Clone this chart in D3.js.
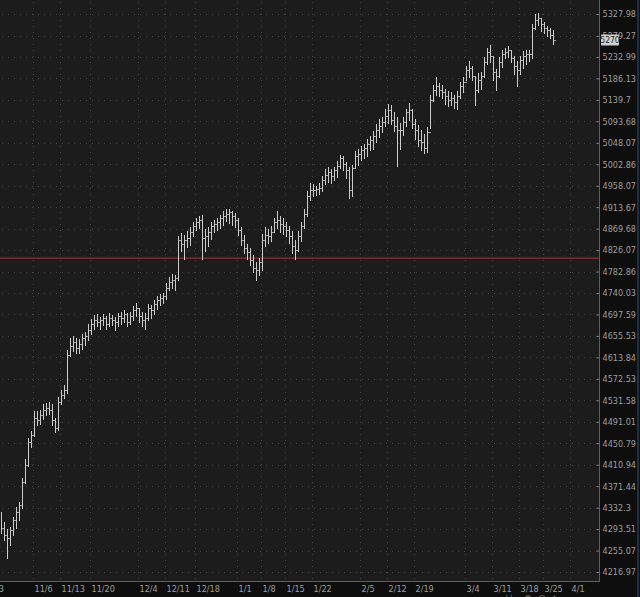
<!DOCTYPE html>
<html><head><meta charset="utf-8">
<script src="https://cdn.jsdelivr.net/npm/d3@7"></script>
<style>
html,body{margin:0;padding:0;background:#0e0e0e;overflow:hidden}
svg{display:block}
.lbl text{font-family:"Liberation Sans Narrow","DejaVu Sans Condensed","Arial Narrow",sans-serif;font-size:9px;fill:#9d9d9d}
</style></head><body>
<svg id="c" width="640" height="597"></svg>
<script>
// ---- data (bar index order, oldest first) ----
const highs=[4324,4305,4292,4297,4315,4332,4341,4386,4420,4460,
4472,4510,4510,4513,4523,4525,4528,4523,4498,4536,
4551,4559,4628,4651,4655,4651,4648,4659,4663,4677,
4687,4695,4697,4691,4697,4693,4699,4695,4691,4699,
4702,4706,4699,4702,4714,4720,4710,4702,4699,4718,
4716,4726,4734,4738,4740,4758,4770,4776,4774,4853,
4859,4855,4863,4871,4883,4891,4895,4897,4867,4871,
4883,4887,4891,4897,4904,4908,4908,4904,4900,4891,
4871,4855,4838,4830,4816,4802,4810,4857,4871,4867,
4875,4891,4904,4895,4891,4883,4875,4863,4846,4863,
4883,4908,4945,4962,4960,4957,4962,4978,4991,4995,
4991,4997,5008,5022,5020,5006,4995,5001,5029,5033,
5041,5045,5054,5062,5071,5086,5097,5101,5118,5129,
5127,5113,5101,5088,5101,5118,5131,5118,5097,5084,
5075,5065,5080,5150,5170,5189,5174,5170,5161,5157,
5155,5148,5157,5178,5187,5213,5222,5213,5191,5196,
5200,5231,5252,5259,5235,5205,5231,5248,5252,5255,
5248,5233,5222,5235,5244,5248,5248,5305,5326,5328,
5319,5310,5301,5296,5292];
const lows=[4288,4274,4243,4265,4283,4297,4310,4333,4379,4410,
4444,4466,4485,4487,4498,4504,4506,4485,4472,4476,
4526,4536,4547,4618,4628,4624,4624,4632,4638,4648,
4661,4671,4675,4671,4677,4671,4675,4677,4669,4675,
4679,4683,4675,4679,4687,4695,4683,4675,4671,4687,
4691,4699,4710,4718,4722,4730,4746,4750,4746,4766,
4826,4810,4834,4838,4855,4867,4871,4810,4826,4836,
4850,4863,4867,4871,4879,4887,4883,4879,4875,4857,
4838,4822,4810,4796,4782,4766,4776,4786,4836,4842,
4846,4863,4871,4863,4859,4855,4842,4822,4810,4826,
4846,4871,4897,4929,4937,4939,4941,4949,4962,4966,
4964,4970,4978,4995,4991,4976,4933,4937,4995,5003,
5012,5016,5022,5033,5037,5050,5062,5071,5084,5092,
5088,5075,5001,5037,5065,5084,5097,5080,5058,5043,
5033,5027,5029,5080,5139,5152,5148,5144,5131,5127,
5129,5124,5122,5144,5157,5183,5191,5183,5129,5157,
5165,5191,5218,5222,5183,5161,5191,5213,5231,5233,
5222,5196,5170,5196,5209,5218,5226,5231,5296,5305,
5292,5287,5280,5276,5263];
const closes=[4296,4283,4277,4292,4310,4324,4337,4379,4410,4453,
4466,4498,4494,4504,4513,4517,4513,4494,4479,4528,
4542,4551,4618,4636,4644,4632,4640,4651,4655,4667,
4679,4687,4683,4687,4691,4679,4691,4687,4683,4695,
4691,4699,4683,4695,4706,4710,4695,4687,4691,4710,
4706,4718,4726,4730,4734,4750,4762,4766,4770,4846,
4838,4846,4850,4863,4875,4883,4887,4850,4855,4863,
4875,4879,4883,4891,4895,4900,4904,4895,4887,4867,
4846,4830,4822,4806,4790,4786,4802,4846,4857,4855,
4863,4883,4887,4879,4875,4867,4855,4834,4826,4855,
4875,4900,4937,4949,4949,4951,4953,4970,4980,4987,
4978,4991,4999,5016,5004,4991,4949,4995,5020,5024,
5033,5037,5045,5054,5062,5075,5084,5092,5105,5118,
5097,5084,5075,5075,5092,5113,5118,5088,5075,5054,
5050,5037,5071,5139,5161,5170,5161,5157,5148,5139,
5144,5135,5148,5170,5178,5205,5209,5191,5161,5183,
5191,5222,5244,5235,5200,5191,5222,5239,5244,5248,
5231,5213,5205,5226,5235,5239,5239,5296,5314,5319,
5305,5296,5292,5282,5270];
const priceTickLabels=["5327.98","5279.27","5232.99","5186.13","5139.7","5093.68","5048.07","5002.86","4958.07","4913.67","4869.68","4826.07","4782.86","4740.03","4697.59","4655.53","4613.84","4572.53","4531.58","4491.01","4450.79","4410.94","4371.44","4332.3","4293.51","4255.07","4216.97"];
const dateLabels=["10/23","11/6","11/13","11/20","12/4","12/11","12/18","1/1","1/8","1/15","1/22","2/5","2/12","2/19","3/4","3/11","3/18","3/25","4/1"];
const dateBars=[-7,11,20,30,46,55,65,79,87,95,104,120,129,138,155,164,173,181,190];
const refLevel=4810;
const lastPrice=5270;

// ---- layout ----
const plotR=599, plotB=581;
const svg=d3.select('#c');
const x=d3.scaleLinear().domain([0,200]).range([0,600]);
const y=d3.scaleLog().domain([4216.97,5327.98]).range([572,14]);
const tickVals=priceTickLabels.map(Number);

svg.append('rect').attr('x',0).attr('y',0).attr('width',plotR).attr('height',plotB).attr('fill','#1c1c1c');

// grid
const grid=svg.append('g').attr('stroke','#434343').attr('stroke-dasharray','1,5').attr('shape-rendering','crispEdges');
grid.selectAll('line.h').data(tickVals).join('line').attr('class','h')
  .attr('x1',2).attr('x2',plotR).attr('y1',d=>Math.round(y(d))+0.5).attr('y2',d=>Math.round(y(d))+0.5);
grid.selectAll('line.v').data(dateBars).join('line').attr('class','v')
  .attr('x1',d=>x(d)+0.5).attr('x2',d=>x(d)+0.5).attr('y1',2).attr('y2',plotB);

// reference line
svg.append('line').attr('x1',0).attr('x2',plotR).attr('y1',y(refLevel)).attr('y2',y(refLevel))
  .attr('stroke','#8e2e2e').attr('stroke-width',1.3);

// bars
const idx=d3.range(highs.length);
const ticks=svg.append('g').attr('stroke','#a4a4a4').attr('stroke-width',1).attr('shape-rendering','crispEdges');
ticks.selectAll('line.c').data(idx).join('line').attr('class','c')
  .attr('x1',i=>Math.floor(x(i+0.5))+0.5).attr('x2',i=>x(i+1)+0.5)
  .attr('y1',i=>Math.round(y(closes[i]))+0.5).attr('y2',i=>Math.round(y(closes[i]))+0.5);
ticks.selectAll('line.o').data(idx.slice(1)).join('line').attr('class','o')
  .attr('x1',i=>x(i)).attr('x2',i=>Math.floor(x(i+0.5))+0.5)
  .attr('y1',i=>Math.round(y(closes[i-1]))+0.5).attr('y2',i=>Math.round(y(closes[i-1]))+0.5);
const bars=svg.append('g').attr('stroke','#cbcbcb').attr('stroke-width',1).attr('shape-rendering','crispEdges');
bars.selectAll('line.r').data(idx).join('line').attr('class','r')
  .attr('x1',i=>Math.floor(x(i+0.5))+0.5).attr('x2',i=>Math.floor(x(i+0.5))+0.5)
  .attr('y1',i=>Math.floor(y(highs[i]))).attr('y2',i=>Math.ceil(y(lows[i]))+1);

// borders
svg.append('line').attr('x1',plotR+0.5).attr('x2',plotR+0.5).attr('y1',0).attr('y2',plotB+1).attr('stroke','#5e5e5e');
svg.append('line').attr('x1',0).attr('x2',plotR+1).attr('y1',plotB+0.5).attr('y2',plotB+0.5).attr('stroke','#5e5e5e');

// price axis
const ya=svg.append('g').attr('class','lbl').attr('transform',`translate(${plotR+0.5},0)`)
  .call(d3.axisRight(y).tickValues(tickVals).tickFormat((d,i)=>priceTickLabels[i]).tickSize(-3).tickPadding(3));
ya.select('.domain').remove();
ya.selectAll('line').attr('stroke','#7a7a7a');

// date axis
const xa=svg.append('g').attr('class','lbl').attr('transform',`translate(0,${plotB+0.5})`)
  .call(d3.axisBottom(x).tickValues(dateBars).tickFormat((d,i)=>dateLabels[i]).tickSize(0).tickPadding(4));
xa.select('.domain').remove();
xa.selectAll('text').attr('text-anchor','start').attr('dx',1);

// last price marker
const ly=y(lastPrice);
svg.append('rect').attr('x',601).attr('y',ly-5.5).attr('width',18).attr('height',11).attr('fill','#cfcfcf').attr('rx',1);
svg.append('text').attr('x',610).attr('y',ly).attr('dy','0.34em').attr('text-anchor','middle')
  .attr('font-family','"Liberation Sans Narrow","DejaVu Sans Condensed",sans-serif').attr('font-size','8.5px').attr('fill','#2a2a2a').text(String(lastPrice));

// right edge
svg.append('line').attr('x1',638).attr('x2',638).attr('y1',0).attr('y2',597).attr('stroke','#1f3d5c').attr('stroke-width',1.5);

// bottom toolbar hint
const tb=svg.append('g').attr('fill','#8a8a8a').attr('font-family','DejaVu Sans').attr('font-size','9px');
[['⊣',500],['⊢',510],['◉',524],['○',538],['▲',551],['▬',572],['▬',590],['▬',612]].forEach(([t,px])=>{
  tb.append('text').attr('x',px).attr('y',601).text(t);
});
</script>
</body></html>
